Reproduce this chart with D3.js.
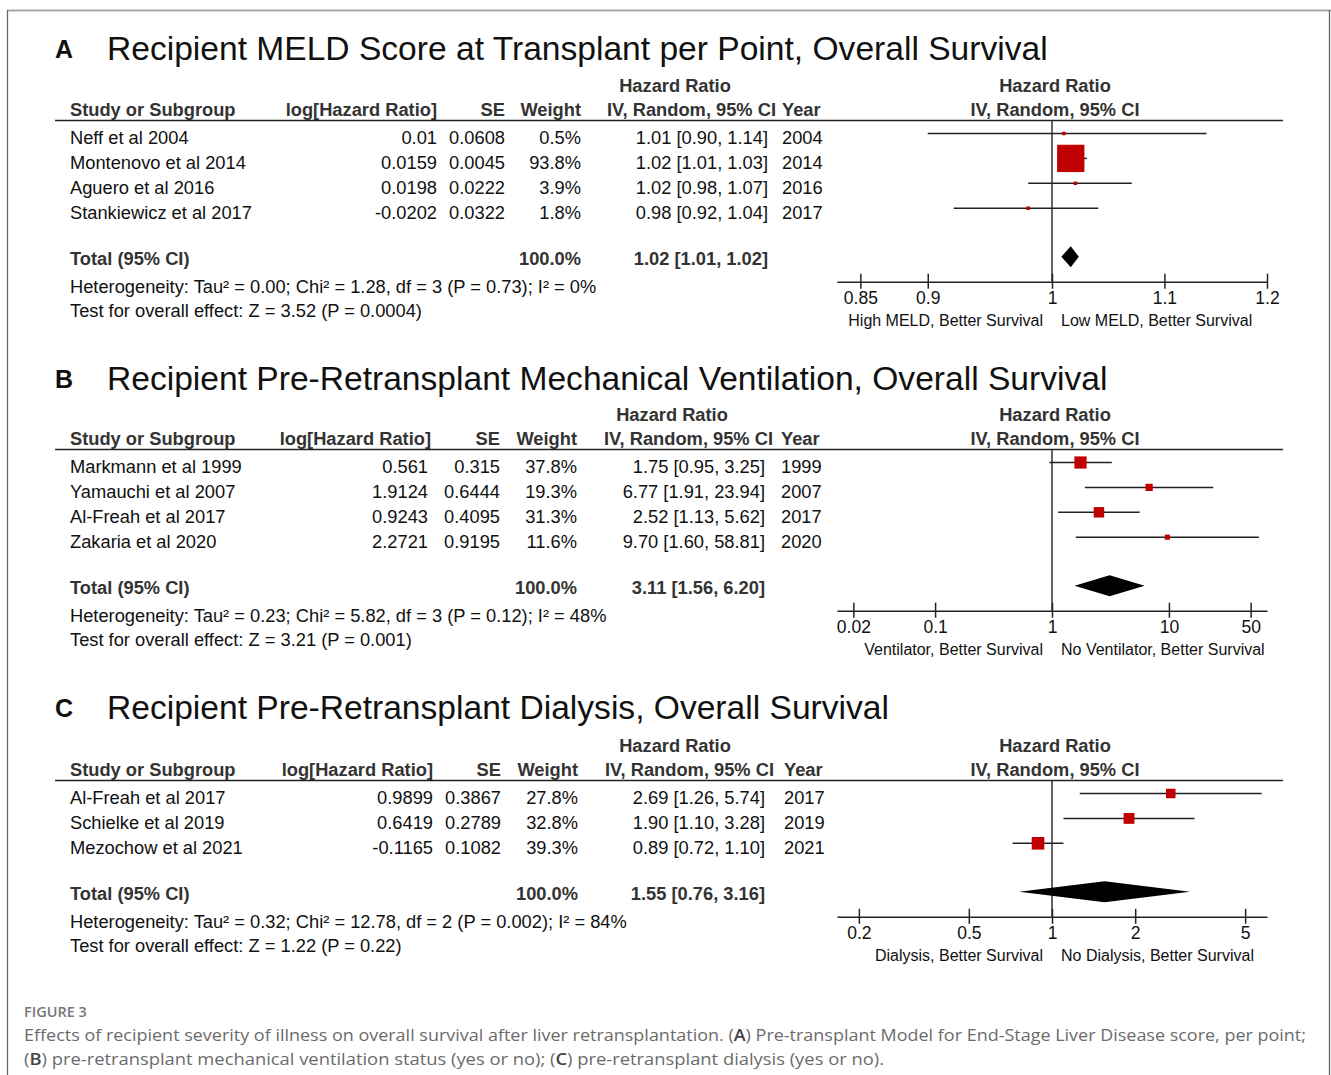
<!DOCTYPE html>
<html lang="en">
<head>
<meta charset="UTF-8">
<title>Figure 3 - forest plots</title>
<script src="https://d3js.org/d3.v7.min.js"></script>
<style>
body { margin: 0; background: #fff; }
svg text { font-family: "Liberation Sans", Arial, sans-serif; fill: #111; }
.axis path, .axis line { stroke: #222; stroke-width: 1.5; fill: none; }
.axis text { font-family: "Liberation Sans", Arial, sans-serif; font-size: 17.5px; fill: #111; }
</style>
</head>
<body>
<script>
// ---- panel A : MELD score
var meldTitle = "Recipient MELD Score at Transplant per Point, Overall Survival";
var meldStudies = ["Neff et al 2004", "Montenovo et al 2014", "Aguero et al 2016", "Stankiewicz et al 2017"];
var meldLogHR = [0.01, 0.0159, 0.0198, -0.0202];
var meldSE = [0.0608, 0.0045, 0.0222, 0.0322];
var meldWeight = [0.5, 93.8, 3.9, 1.8];
var meldLo = [0.90, 1.01, 0.98, 0.92];
var meldHi = [1.14, 1.03, 1.07, 1.04];
var meldYear = [2004, 2014, 2016, 2017];
var meldTotal = [1.016, 1.008, 1.023];   // hr, lo, hi
var meldStats = ["Heterogeneity: Tau² = 0.00; Chi² = 1.28, df = 3 (P = 0.73); I² = 0%",
                 "Test for overall effect: Z = 3.52 (P = 0.0004)"];
var meldTicks = [0.85, 0.9, 1, 1.1, 1.2];
var meldSides = ["High MELD, Better Survival", "Low MELD, Better Survival"];

// ---- panel B : mechanical ventilation
var ventTitle = "Recipient Pre-Retransplant Mechanical Ventilation, Overall Survival";
var ventStudies = ["Markmann et al 1999", "Yamauchi et al 2007", "Al-Freah et al 2017", "Zakaria et al 2020"];
var ventLogHR = [0.561, 1.9124, 0.9243, 2.2721];
var ventSE = [0.315, 0.6444, 0.4095, 0.9195];
var ventWeight = [37.8, 19.3, 31.3, 11.6];
var ventLo = [0.95, 1.91, 1.13, 1.60];
var ventHi = [3.25, 23.94, 5.62, 58.81];
var ventYear = [1999, 2007, 2017, 2020];
var ventTotal = [3.11, 1.56, 6.20];
var ventStats = ["Heterogeneity: Tau² = 0.23; Chi² = 5.82, df = 3 (P = 0.12); I² = 48%",
                 "Test for overall effect: Z = 3.21 (P = 0.001)"];
var ventTicks = [0.02, 0.1, 1, 10, 50];
var ventSides = ["Ventilator, Better Survival", "No Ventilator, Better Survival"];

// ---- panel C : dialysis
var dialTitle = "Recipient Pre-Retransplant Dialysis, Overall Survival";
var dialStudies = ["Al-Freah et al 2017", "Schielke et al 2019", "Mezochow et al 2021"];
var dialLogHR = [0.9899, 0.6419, -0.1165];
var dialSE = [0.3867, 0.2789, 0.1082];
var dialWeight = [27.8, 32.8, 39.3];
var dialLo = [1.26, 1.10, 0.72];
var dialHi = [5.74, 3.28, 1.10];
var dialYear = [2017, 2019, 2021];
var dialTotal = [1.55, 0.76, 3.16];
var dialStats = ["Heterogeneity: Tau² = 0.32; Chi² = 12.78, df = 2 (P = 0.002); I² = 84%",
                 "Test for overall effect: Z = 1.22 (P = 0.22)"];
var dialTicks = [0.2, 0.5, 1, 2, 5];
var dialSides = ["Dialysis, Better Survival", "No Dialysis, Better Survival"];

var captionHead = "FIGURE 3";
var captionLines = [
  ["Effects of recipient severity of illness on overall survival after liver retransplantation. (", "A", ") Pre-transplant Model for End-Stage Liver Disease score, per point;"],
  ["(", "B", ") pre-retransplant mechanical ventilation status (yes or no); (", "C", ") pre-retransplant dialysis (yes or no)."]
];

window.onload = function () {
  var W = 1331, H = 1075;
  var svg = d3.select("body").append("svg").attr("width", W).attr("height", H);

  // outer frame
  svg.append("line").attr("x1", 7).attr("x2", W).attr("y1", 10.5).attr("y2", 10.5)
     .attr("stroke", "#a8a8a8").attr("stroke-width", 2);
  svg.append("line").attr("x1", 7.5).attr("x2", 7.5).attr("y1", 10).attr("y2", H)
     .attr("stroke", "#666").attr("stroke-width", 1.3);
  svg.append("line").attr("x1", 1329.5).attr("x2", 1329.5).attr("y1", 10).attr("y2", H)
     .attr("stroke", "#666").attr("stroke-width", 1.3);

  var panels = [
    {letter: "A", title: meldTitle, studies: meldStudies, logHR: meldLogHR, se: meldSE, weight: meldWeight,
     lo: meldLo, hi: meldHi, year: meldYear, total: meldTotal, stats: meldStats,
     ticks: meldTicks, sides: meldSides, ext: 1.2,
     titleY: 60, rule: 120.5, cLog: 437, cSE: 505, cW: 581, cCI: 768, hCI: 776, cYear: 782, hrMid: 675},
    {letter: "B", title: ventTitle, studies: ventStudies, logHR: ventLogHR, se: ventSE, weight: ventWeight,
     lo: ventLo, hi: ventHi, year: ventYear, total: ventTotal, stats: ventStats,
     ticks: ventTicks, sides: ventSides, ext: 69,
     titleY: 390, rule: 449.5, cLog: 428, hLog: 431, cSE: 500, cW: 577, cCI: 765, hCI: 773, cYear: 781, hrMid: 672},
    {letter: "C", title: dialTitle, studies: dialStudies, logHR: dialLogHR, se: dialSE, weight: dialWeight,
     lo: dialLo, hi: dialHi, year: dialYear, total: dialTotal, stats: dialStats,
     ticks: dialTicks, sides: dialSides, ext: 6,
     titleY: 719, rule: 780.5, cLog: 433, cSE: 501, cW: 578, cCI: 765, hCI: 774, cYear: 784, hrMid: 675}
  ];

  var f2 = d3.format(".2f"), f1 = d3.format(".1f");
  var size = d3.scaleLinear().domain([0, 100]).range([2, 29]);
  var red = "#c00000";

  panels.forEach(function (p) {
    var g = svg.append("g");
    var n = p.studies.length;
    var hr = p.logHR.map(function (v) { return Math.exp(v); });
    var x = d3.scaleLog().domain([1 / p.ext, p.ext]).range([837, 1267]);
    var y = d3.scaleLinear().domain([0, 1]).range([p.rule + 13, p.rule + 13 + 24.9]);
    var totalY = y(n - 1) + 48.5;
    var axisY = totalY + 25;
    var hLog = p.hLog || p.cLog;
    var side = function (i) { return Math.max(3.5, size(p.weight[i])); };

    function txt(s, tx, ty, anchor, fs, bold) {
      return g.append("text").attr("x", tx).attr("y", ty)
        .attr("text-anchor", anchor || "start")
        .style("font-size", (fs || 18.3) + "px")
        .style("font-weight", bold ? "bold" : "normal")
        .text(s);
    }

    // title
    txt(p.letter, 55, p.titleY - 2.5, "start", 25, true);
    txt(p.title, 107, p.titleY, "start", 33.6, false);

    // headers
    var hb = p.rule - 4.5;
    txt("Hazard Ratio", p.hrMid, p.rule - 29, "middle", 18.3, true).style("fill", "#333");
    txt("Study or Subgroup", 70, hb, "start", 18.3, true).style("fill", "#333");
    txt("log[Hazard Ratio]", hLog, hb, "end", 18.3, true).style("fill", "#333");
    txt("SE", p.cSE, hb, "end", 18.3, true).style("fill", "#333");
    txt("Weight", p.cW, hb, "end", 18.3, true).style("fill", "#333");
    txt("IV, Random, 95% CI", p.hCI, hb, "end", 18.3, true).style("fill", "#333");
    txt("Year", p.cYear, hb, "start", 18.3, true).style("fill", "#333");
    txt("Hazard Ratio", 1055, p.rule - 29, "middle", 18.3, true).style("fill", "#333");
    txt("IV, Random, 95% CI", 1055, hb, "middle", 18.3, true).style("fill", "#333");

    g.append("line").attr("x1", 55).attr("x2", 1283).attr("y1", p.rule).attr("y2", p.rule)
      .attr("stroke", "#222").attr("stroke-width", 1.6);

    // study rows
    p.studies.forEach(function (s, i) {
      var b = y(i) + 10.5;
      txt(s, 70, b);
      txt(String(p.logHR[i]), p.cLog, b, "end");
      txt(String(p.se[i]), p.cSE, b, "end");
      txt(f1(p.weight[i]) + "%", p.cW, b, "end");
      txt(f2(hr[i]) + " [" + f2(p.lo[i]) + ", " + f2(p.hi[i]) + "]", p.cCI, b, "end");
      txt(p.year[i], p.cYear, b, "start");
    });

    // totals and stats
    txt("Total (95% CI)", 70, totalY + 8.5, "start", 18.3, true).style("fill", "#333");
    txt("100.0%", p.cW, totalY + 8.5, "end", 18.3, true).style("fill", "#333");
    txt(f2(p.total[0]) + " [" + f2(p.total[1]) + ", " + f2(p.total[2]) + "]", p.cCI, totalY + 8.5, "end", 18.3, true).style("fill", "#333");
    txt(p.stats[0], 70, totalY + 36);
    txt(p.stats[1], 70, totalY + 60);

    // null line
    g.append("line").attr("x1", x(1)).attr("x2", x(1)).attr("y1", p.rule).attr("y2", axisY)
      .attr("stroke", "#222").attr("stroke-width", 1.4);

    // CI lines
    g.selectAll(".ci").data(p.studies).enter().append("line")
      .attr("x1", function (d, i) { return x(p.lo[i]); })
      .attr("x2", function (d, i) { return x(p.hi[i]); })
      .attr("y1", function (d, i) { return y(i); })
      .attr("y2", function (d, i) { return y(i); })
      .attr("stroke", "#222").attr("stroke-width", 1.5);

    // squares
    g.selectAll(".sq").data(p.studies).enter().append("rect")
      .attr("x", function (d, i) { return x(hr[i]) - side(i) / 2; })
      .attr("y", function (d, i) { return y(i) - side(i) / 2; })
      .attr("width", function (d, i) { return side(i); })
      .attr("height", function (d, i) { return side(i); })
      .attr("fill", red);

    // diamond
    var dh = 10.5;
    g.append("path")
      .attr("d", "M" + x(p.total[1]) + "," + totalY + "L" + x(p.total[0]) + "," + (totalY - dh) +
                 "L" + x(p.total[2]) + "," + totalY + "L" + x(p.total[0]) + "," + (totalY + dh) + "Z")
      .attr("fill", "#000");

    // axis
    var axis = d3.axisBottom(x).tickValues(p.ticks).tickSizeOuter(0).tickSizeInner(7)
      .tickFormat(function (v) { return String(v); });
    var ax = g.append("g").attr("class", "axis").attr("transform", "translate(0," + axisY + ")").call(axis);
    ax.selectAll(".tick line").attr("y1", -8).attr("y2", 7);
    ax.selectAll(".tick text").attr("y", 22.5).attr("dy", null);

    txt(p.sides[0], 1043, axisY + 44, "end", 16);
    txt(p.sides[1], 1061, axisY + 44, "start", 16);
  });

  // caption
  svg.append("text").attr("x", 24).attr("y", 1017).text(captionHead)
    .style("font-family", "'Open Sans', sans-serif").style("font-size", "14.5px")
    .style("font-weight", "600").style("fill", "#777");
  var capLens = [1282, 860];
  captionLines.forEach(function (parts, li) {
    var t = svg.append("text").attr("x", 24).attr("y", 1041 + li * 23.5)
      .attr("textLength", capLens[li]).attr("lengthAdjust", "spacingAndGlyphs")
      .style("font-family", "'Open Sans', sans-serif").style("font-size", "17px").style("fill", "#6b6b6b");
    parts.forEach(function (s, k) {
      t.append("tspan").text(s).style("font-weight", k % 2 === 1 ? "600" : "normal")
        .style("fill", k % 2 === 1 ? "#444" : "#6b6b6b");
    });
  });
};
</script>
</body>
</html>
